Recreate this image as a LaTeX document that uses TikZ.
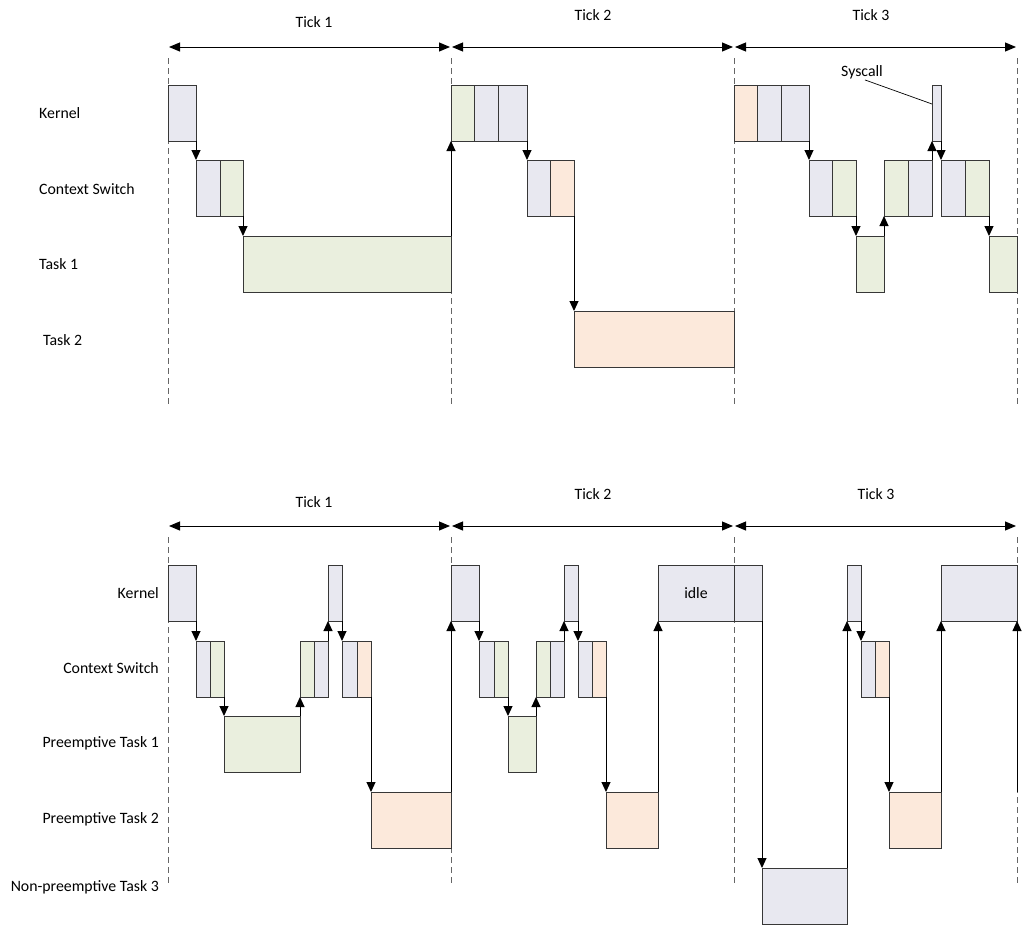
\documentclass[tikz,border=0pt]{standalone}
\usepackage{fontspec}
\setmainfont{Carlito}
\usetikzlibrary{arrows.meta}
\definecolor{lavC}{RGB}{232,232,240}
\definecolor{grnC}{RGB}{234,239,222}
\definecolor{pchC}{RGB}{252,233,219}
\definecolor{edgeC}{RGB}{55,55,55}
\begin{document}
\begin{tikzpicture}[x=1pt,y=-1pt,
  font=\fontsize{15.8}{19}\selectfont,
  box/.style={draw=edgeC, line width=1pt, anchor=north west, minimum height=56pt, inner sep=0pt, outer sep=0pt},
  lav/.style={box, fill=lavC},
  grn/.style={box, fill=grnC},
  pch/.style={box, fill=pchC},
  arr/.style={-{Triangle[length=10pt,width=9pt]}, line width=1pt, black},
  tickarr/.style={{Triangle[length=11pt,width=9pt]}-{Triangle[length=11pt,width=9pt]}, line width=1pt, black, shorten <=1pt, shorten >=1pt},
  guide/.style={dashed, dash pattern=on 6pt off 4pt, line width=0.9pt, black!60},
  lbl/.style={inner sep=1pt}
]
\useasboundingbox (0,0) rectangle (1022,926);

% ================= TOP DIAGRAM =================
\foreach \n/\x in {0/168,1/451,2/734,3/1017}{
  \coordinate (ta\n) at (\x,47);
  \coordinate (gt\n) at (\x,58);
  \coordinate (gb\n) at (\x,405);
}
\foreach \n in {0,1,2,3}{ \draw[guide] (gt\n) -- (gb\n); }
\draw[tickarr] (ta0) -- (ta1);
\draw[tickarr] (ta1) -- (ta2);
\draw[tickarr] (ta2) -- (ta3);
\node[lbl] (tl1) at (314,22) {Tick 1};
\node[lbl] (tl2) at (593,15) {Tick 2};
\node[lbl] (tl3) at (871,15) {Tick 3};

\node[lbl, anchor=west] (rk) at (38,113) {Kernel};
\node[lbl, anchor=west] (rc) at (38,189) {Context Switch};
\node[lbl, anchor=west] (r1) at (38,264) {Task 1};
\node[lbl, anchor=west] (r2) at (42,340) {Task 2};

% tick 1
\node[lav, minimum width=28pt] (tk1a) at (168,85) {};
\node[lav, minimum width=24pt] (tc1a) at (196,160) {};
\node[grn, minimum width=23pt] (tc1b) at (220,160) {};
\node[grn, minimum width=208pt] (tt1a) at (243,236) {};
% tick 2
\node[grn, minimum width=23pt] (tk2a) at (451,85) {};
\node[lav, minimum width=24pt] (tk2b) at (474,85) {};
\node[lav, minimum width=29pt] (tk2c) at (498,85) {};
\node[lav, minimum width=23pt] (tc2a) at (527,160) {};
\node[pch, minimum width=24pt] (tc2b) at (550,160) {};
\node[pch, minimum width=160pt] (tt2a) at (574,311) {};
% tick 3
\node[pch, minimum width=23pt] (tk3a) at (734,85) {};
\node[lav, minimum width=24pt] (tk3b) at (757,85) {};
\node[lav, minimum width=28pt] (tk3c) at (781,85) {};
\node[lav, minimum width=23pt] (tc3a) at (809,160) {};
\node[grn, minimum width=24pt] (tc3b) at (832,160) {};
\node[grn, minimum width=28pt] (tt3a) at (856,236) {};
\node[grn, minimum width=24pt] (tc3c) at (884,160) {};
\node[lav, minimum width=24pt] (tc3d) at (908,160) {};
\node[lav, minimum width=9pt] (tk3d) at (932,85) {};
\node[lav, minimum width=24pt] (tc3e) at (941,160) {};
\node[grn, minimum width=24pt] (tc3f) at (965,160) {};
\node[grn, minimum width=28pt] (tt3b) at (989,236) {};

\node[lbl] (sys) at (862,72) {Syscall};
\draw[line width=0.7pt] ([xshift=3pt]sys.south) -- ([yshift=9pt]tk3d.west);

\draw[arr] (tk1a.south east) -- (tc1a.north west);
\draw[arr] (tc1b.south east) -- (tt1a.north west);
\draw[arr] (tt1a.north east) -- (tk2a.south west);
\draw[arr] (tk2c.south east) -- (tc2a.north west);
\draw[arr] (tc2b.south east) -- (tt2a.north west);
\draw[arr] (tk3c.south east) -- (tc3a.north west);
\draw[arr] (tc3b.south east) -- (tt3a.north west);
\draw[arr] (tt3a.north east) -- (tc3c.south west);
\draw[arr] (tc3d.north east) -- (tk3d.south west);
\draw[arr] (tk3d.south east) -- (tc3e.north west);
\draw[arr] (tc3f.south east) -- (tt3b.north west);

% ================= BOTTOM DIAGRAM =================
\foreach \n/\x in {0/168,1/451,2/734,3/1017}{
  \coordinate (ba\n) at (\x,526);
  \coordinate (hgt\n) at (\x,537);
  \coordinate (hgb\n) at (\x,885);
}
\foreach \n in {0,1,2,3}{ \draw[guide] (hgt\n) -- (hgb\n); }
\draw[tickarr] (ba0) -- (ba1);
\draw[tickarr] (ba1) -- (ba2);
\draw[tickarr] (ba2) -- (ba3);
\node[lbl] (bl1) at (314,502) {Tick 1};
\node[lbl] (bl2) at (593,494) {Tick 2};
\node[lbl] (bl3) at (876,494) {Tick 3};

\node[lbl, anchor=east] (sk) at (160,593) {Kernel};
\node[lbl, anchor=east] (sc) at (160,668) {Context Switch};
\node[lbl, anchor=east] (s1) at (160,743) {Preemptive Task 1};
\node[lbl, anchor=east] (s2) at (160,819) {Preemptive Task 2};
\node[lbl, anchor=east] (s3) at (160,887) {Non-preemptive Task 3};

% tick 1
\node[lav, minimum width=28pt] (bk1a) at (168,565) {};
\node[lav, minimum width=14pt] (bc1a) at (196,641) {};
\node[grn, minimum width=14pt] (bc1b) at (210,641) {};
\node[grn, minimum width=76pt] (bp1a) at (224,716) {};
\node[grn, minimum width=14pt] (bc1c) at (300,641) {};
\node[lav, minimum width=14pt] (bc1d) at (314,641) {};
\node[lav, minimum width=14pt] (bk1b) at (328,565) {};
\node[lav, minimum width=15pt] (bc1e) at (342,641) {};
\node[pch, minimum width=14pt] (bc1f) at (357,641) {};
\node[pch, minimum width=80pt] (bp2a) at (371,792) {};
% tick 2
\node[lav, minimum width=28pt] (bk2a) at (451,565) {};
\node[lav, minimum width=15pt] (bc2a) at (479,641) {};
\node[grn, minimum width=14pt] (bc2b) at (494,641) {};
\node[grn, minimum width=28pt] (bp1b) at (508,716) {};
\node[grn, minimum width=14pt] (bc2c) at (536,641) {};
\node[lav, minimum width=14pt] (bc2d) at (550,641) {};
\node[lav, minimum width=14pt] (bk2b) at (564,565) {};
\node[lav, minimum width=14pt] (bc2e) at (578,641) {};
\node[pch, minimum width=14pt] (bc2f) at (592,641) {};
\node[pch, minimum width=52pt] (bp2b) at (606,792) {};
\node[lav, minimum width=76pt] (bk2c) at (658,565) {idle};
% tick 3
\node[lav, minimum width=28pt] (bk3a) at (734,565) {};
\node[lav, minimum width=85pt] (bn3) at (762,868) {};
\node[lav, minimum width=14pt] (bk3b) at (847,565) {};
\node[lav, minimum width=14pt] (bc3a) at (861,641) {};
\node[pch, minimum width=14pt] (bc3b) at (875,641) {};
\node[pch, minimum width=52pt] (bp2c) at (889,792) {};
\node[lav, minimum width=76pt] (bk3c) at (941,565) {};
\coordinate (bend) at (1017,792);

\draw[arr] (bk1a.south east) -- (bc1a.north west);
\draw[arr] (bc1b.south east) -- (bp1a.north west);
\draw[arr] (bp1a.north east) -- (bc1c.south west);
\draw[arr] (bc1d.north east) -- (bk1b.south west);
\draw[arr] (bk1b.south east) -- (bc1e.north west);
\draw[arr] (bc1f.south east) -- (bp2a.north west);
\draw[arr] (bp2a.north east) -- (bk2a.south west);
\draw[arr] (bk2a.south east) -- (bc2a.north west);
\draw[arr] (bc2b.south east) -- (bp1b.north west);
\draw[arr] (bp1b.north east) -- (bc2c.south west);
\draw[arr] (bc2d.north east) -- (bk2b.south west);
\draw[arr] (bk2b.south east) -- (bc2e.north west);
\draw[arr] (bc2f.south east) -- (bp2b.north west);
\draw[arr] (bp2b.north east) -- (bk2c.south west);
\draw[arr] (bk3a.south east) -- (bn3.north west);
\draw[arr] (bn3.north east) -- (bk3b.south west);
\draw[arr] (bk3b.south east) -- (bc3a.north west);
\draw[arr] (bc3b.south east) -- (bp2c.north west);
\draw[arr] (bp2c.north east) -- (bk3c.south west);
\draw[arr] (bend) -- (bk3c.south east);
\end{tikzpicture}
\end{document}
